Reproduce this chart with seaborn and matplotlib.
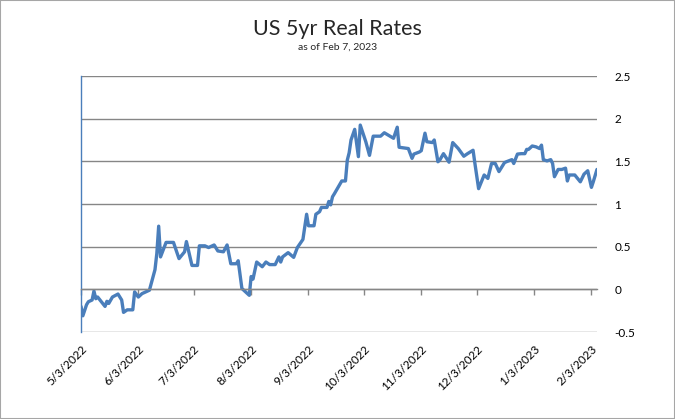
import matplotlib
matplotlib.use("Agg")
import numpy as np
import pandas as pd
import matplotlib.pyplot as plt
from matplotlib.patches import Rectangle
from matplotlib.ticker import FuncFormatter
import seaborn as sns

# values
dates = [
    "2022-05-03", "2022-05-04", "2022-05-06", "2022-05-07", "2022-05-09", "2022-05-10",
    "2022-05-11", "2022-05-12", "2022-05-14", "2022-05-16", "2022-05-17", "2022-05-18",
    "2022-05-20", "2022-05-23", "2022-05-25", "2022-05-26", "2022-05-28", "2022-05-31",
    "2022-06-01", "2022-06-03", "2022-06-05", "2022-06-07", "2022-06-09", "2022-06-12",
    "2022-06-13", "2022-06-14", "2022-06-15", "2022-06-18", "2022-06-22", "2022-06-25",
    "2022-06-28", "2022-06-29", "2022-07-02", "2022-07-05", "2022-07-06", "2022-07-09",
    "2022-07-11", "2022-07-14", "2022-07-16", "2022-07-19", "2022-07-21", "2022-07-23",
    "2022-07-26", "2022-07-27", "2022-07-29", "2022-07-31", "2022-08-02", "2022-08-03",
    "2022-08-04", "2022-08-06", "2022-08-09", "2022-08-11", "2022-08-13", "2022-08-16",
    "2022-08-18", "2022-08-19", "2022-08-20", "2022-08-23", "2022-08-26", "2022-08-28",
    "2022-08-31", "2022-09-02", "2022-09-03", "2022-09-06", "2022-09-07", "2022-09-09",
    "2022-09-10", "2022-09-13", "2022-09-14", "2022-09-15", "2022-09-16", "2022-09-17",
    "2022-09-19", "2022-09-21", "2022-09-23", "2022-09-24", "2022-09-25", "2022-09-26",
    "2022-09-28", "2022-09-30", "2022-10-01", "2022-10-04", "2022-10-06", "2022-10-08",
    "2022-10-12", "2022-10-14", "2022-10-19", "2022-10-21", "2022-10-22", "2022-10-27",
    "2022-10-29", "2022-10-30", "2022-11-02", "2022-11-03", "2022-11-05", "2022-11-06",
    "2022-11-09", "2022-11-10", "2022-11-12", "2022-11-13", "2022-11-15", "2022-11-18",
    "2022-11-20", "2022-11-23", "2022-11-26", "2022-11-28", "2022-12-01", "2022-12-02",
    "2022-12-04", "2022-12-07", "2022-12-09", "2022-12-11", "2022-12-13", "2022-12-15",
    "2022-12-18", "2022-12-19", "2022-12-22", "2022-12-23", "2022-12-25", "2022-12-27",
    "2022-12-29", "2022-12-30", "2022-12-31", "2023-01-02", "2023-01-04", "2023-01-06",
    "2023-01-07", "2023-01-08", "2023-01-10", "2023-01-12", "2023-01-13", "2023-01-14",
    "2023-01-16", "2023-01-18", "2023-01-20", "2023-01-21", "2023-01-22", "2023-01-25",
    "2023-01-28", "2023-01-30", "2023-02-01", "2023-02-03", "2023-02-04", "2023-02-06",
]
real_rate = [
    -0.20, -0.31, -0.18, -0.145, -0.125, -0.02,
    -0.11, -0.09, -0.145, -0.20, -0.14, -0.165,
    -0.09, -0.055, -0.125, -0.27, -0.24, -0.24,
    -0.03, -0.09, -0.05, -0.03, -0.01, 0.23,
    0.42, 0.74, 0.38, 0.55, 0.55, 0.36,
    0.44, 0.56, 0.28, 0.28, 0.51, 0.51,
    0.49, 0.52, 0.45, 0.44, 0.52, 0.30,
    0.30, 0.335, 0.01, -0.03, -0.07, 0.15,
    0.12, 0.32, 0.265, 0.32, 0.29, 0.29,
    0.38, 0.32, 0.38, 0.43, 0.375, 0.49,
    0.585, 0.88, 0.745, 0.745, 0.88, 0.91,
    0.96, 0.96, 1.03, 0.99, 1.085, 1.12,
    1.195, 1.27, 1.27, 1.515, 1.60, 1.75,
    1.875, 1.555, 1.925, 1.73, 1.57, 1.795,
    1.795, 1.835, 1.77, 1.90, 1.665, 1.65,
    1.535, 1.585, 1.61, 1.625, 1.83, 1.73,
    1.72, 1.75, 1.495, 1.515, 1.59, 1.49,
    1.72, 1.65, 1.56, 1.59, 1.63, 1.475,
    1.18, 1.34, 1.30, 1.475, 1.475, 1.38,
    1.485, 1.495, 1.52, 1.475, 1.585, 1.59,
    1.59, 1.64, 1.64, 1.68, 1.67, 1.65,
    1.69, 1.52, 1.505, 1.52, 1.475, 1.32,
    1.405, 1.405, 1.42, 1.27, 1.34, 1.34,
    1.26, 1.35, 1.39, 1.195, 1.26, 1.405,
]

tick_dates = ["2022-05-03", "2022-06-03", "2022-07-03", "2022-08-03", "2022-09-03",
              "2022-10-03", "2022-11-03", "2022-12-03", "2023-01-03", "2023-02-03"]
tick_labels = ["5/3/2022", "6/3/2022", "7/3/2022", "8/3/2022", "9/3/2022",
               "10/3/2022", "11/3/2022", "12/3/2022", "1/3/2023", "2/3/2023"]
y_ticks = [-0.5, 0, 0.5, 1, 1.5, 2, 2.5]

df = pd.DataFrame({"date": pd.to_datetime(dates), "rate": real_rate})

sns.set_style("white")
plt.rcParams['font.family'] = ['Lato', 'DejaVu Sans']

fig = plt.figure(figsize=(6.75, 4.19), dpi=100)
ax = fig.add_axes([0.12, 0.2076, 0.7644, 0.611])

sns.lineplot(data=df, x="date", y="rate", ax=ax, color="#4a7ebb", linewidth=2.4)

ax.set_xlim(df.date.min(), df.date.max())
ax.set_ylim(-0.5, 2.5)
ax.set_yticks(y_ticks)
ax.yaxis.set_major_formatter(FuncFormatter(lambda v, _: f"{v:g}"))
ax.yaxis.tick_right()
ax.grid(axis='y', color='#868686', lw=1)
ax.set_axisbelow(True)

ax.set_xticks(pd.to_datetime(tick_dates))
ax.set_xticklabels(tick_labels)

for s in ['top', 'right']:
    ax.spines[s].set_visible(False)
ax.spines['left'].set_color('#4a7ebb')
ax.spines['left'].set_linewidth(1)
ax.spines['bottom'].set_position(('data', 0))
ax.spines['bottom'].set_color('#868686')
ax.spines['bottom'].set_linewidth(1)

ax.tick_params(axis='x', bottom=True, direction='out', length=4, width=1, color='#868686',
               pad=35, labelsize=8.5, labelcolor='black')
ax.tick_params(axis='y', left=False, right=False, pad=9, labelsize=8.5, labelcolor='black')
plt.setp(ax.get_xticklabels(), rotation=45, ha='right', rotation_mode='anchor')
ax.set_xlabel('')
ax.set_ylabel('')

fig.text(0.5, 0.93, "US 5yr Real Rates", ha='center', va='center', fontsize=15.5)
fig.text(0.5, 0.888, "as of Feb 7, 2023", ha='center', va='center', fontsize=7.5)

fig.patches.append(Rectangle((0, 0), 1, 1, transform=fig.transFigure, fill=False,
                             ec='#a6a6a6', lw=1.5))

fig.savefig('out.png', dpi=100)
